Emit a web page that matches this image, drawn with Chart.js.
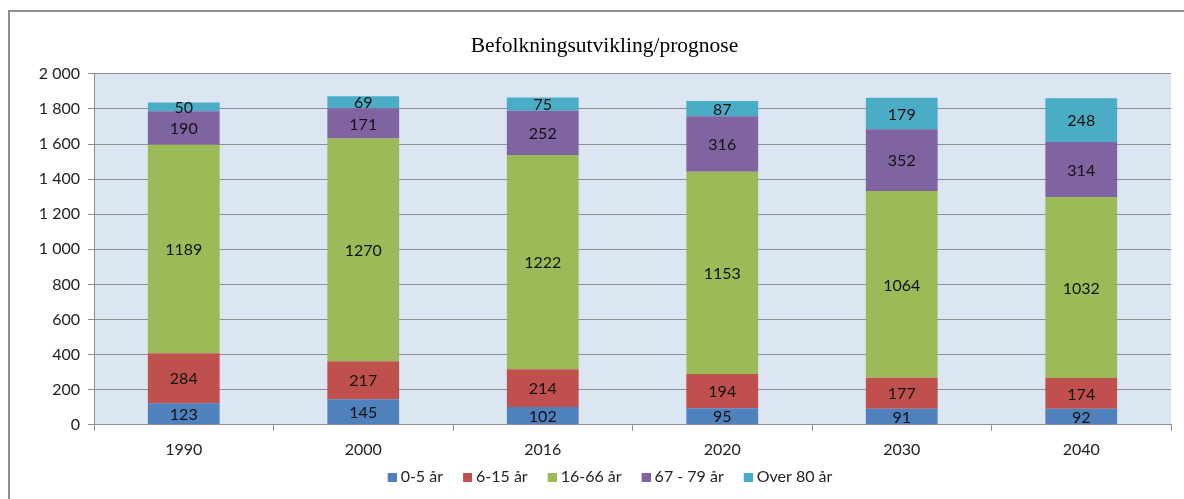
<!DOCTYPE html>
<html><head><meta charset="utf-8">
<script src="https://cdn.jsdelivr.net/npm/chart.js@4"></script>
<style>
html,body{margin:0;padding:0;background:#fff;overflow:hidden}
#wrap{position:relative;width:1184px;height:499px}
#frame{position:absolute;left:8px;top:10px;width:1300px;height:600px;border:2px solid #8e8e8e;box-sizing:border-box}
canvas{position:absolute;left:0;top:0}
</style></head>
<body><div id="wrap"><div id="frame"></div><canvas id="c" width="1184" height="499"></canvas></div>
<script>
const categories = ['1990','2000','2016','2020','2030','2040'];
const age0_5 = [123,145,102,95,91,92];
const age6_15 = [284,217,214,194,177,174];
const age16_66 = [1189,1270,1222,1153,1064,1032];
const age67_79 = [190,171,252,316,352,314];
const age80plus = [50,69,75,87,179,248];
const seriesNames = ['0-5 år','6-15 år','16-66 år','67 - 79 år','Over 80 år'];
const colors = ['#4F81BD','#C0504D','#9BBB59','#8064A2','#4BACC6'];
const FONT = 'Lato, "Open Sans", sans-serif';

// legend marker: 9x9 square placed at the right end of a wider transparent canvas
const MARK_BOX = 16;              // legend box slot width
function marker(color){
  const c = document.createElement('canvas');
  c.width = MARK_BOX + 8; c.height = 9;
  const x = c.getContext('2d'); x.fillStyle = color; x.fillRect(c.width - 9, 0, 9, 9);
  return c;
}
const markers = colors.map(marker);

const bgPlugin = {
  id:'bg',
  beforeDraw(chart){
    const {ctx, chartArea:a} = chart;
    ctx.save(); ctx.fillStyle='#DCE6F2';
    ctx.fillRect(a.left,a.top,a.right-a.left,a.bottom-a.top); ctx.restore();
  }
};
const labelPlugin = {
  id:'vals',
  afterDatasetsDraw(chart){
    const ctx = chart.ctx; ctx.save();
    ctx.font = '16px ' + FONT; ctx.fillStyle='#111'; ctx.textAlign='center'; ctx.textBaseline='middle';
    chart.data.datasets.forEach((ds,i)=>{
      chart.getDatasetMeta(i).data.forEach((bar,j)=>{
        const y = (bar.y + bar.base)/2;
        ctx.fillText(String(ds.data[j]), bar.x, y+1);
      });
    });
    ctx.restore();
  }
};
const sets = [age0_5,age6_15,age16_66,age67_79,age80plus];
new Chart(document.getElementById('c'),{
  type:'bar',
  data:{labels:categories,datasets:sets.map((d,i)=>({label:seriesNames[i],data:d,backgroundColor:colors[i],borderWidth:0,barPercentage:0.4,categoryPercentage:1}))},
  options:{
    responsive:false,animation:false,
    layout:{padding:{left:38,right:13,top:0,bottom:4}},
    plugins:{
      title:{display:true,text:'Befolkningsutvikling/prognose',color:'#000',font:{family:'"Liberation Serif", "Times New Roman", serif',size:21.5,weight:'normal'},padding:{top:33,bottom:15}},
      legend:{position:'bottom',labels:{usePointStyle:true,pointStyleWidth:MARK_BOX,boxHeight:9,color:'#222',font:{family:FONT,size:16},padding:9,
        generateLabels(chart){
          const items = Chart.defaults.plugins.legend.labels.generateLabels(chart);
          items.forEach((it,i)=>{ it.pointStyle = markers[i]; });
          return items;
        }}},
      tooltip:{enabled:false}
    },
    scales:{
      x:{stacked:true,
        afterFit(s){s.height -= 8;},
        grid:{display:true,drawOnChartArea:false,drawTicks:true,tickLength:6,color:'#8e8e8e',offset:true},
        border:{color:'#8e8e8e',width:1},
        ticks:{color:'#222',font:{family:FONT,size:16},padding:9}},
      y:{stacked:true,min:0,max:2000,
        afterFit(s){s.width=56;},
        grid:{color:'#8e8e8e',tickLength:6,lineWidth:1},
        border:{color:'#8e8e8e',width:1},
        ticks:{stepSize:200,color:'#222',font:{family:FONT,size:16},padding:8,
          callback:v=>String(v).replace(/\B(?=(\d{3})+(?!\d))/g,' ')}}
    }
  },
  plugins:[bgPlugin,labelPlugin]
});
</script></body></html>
